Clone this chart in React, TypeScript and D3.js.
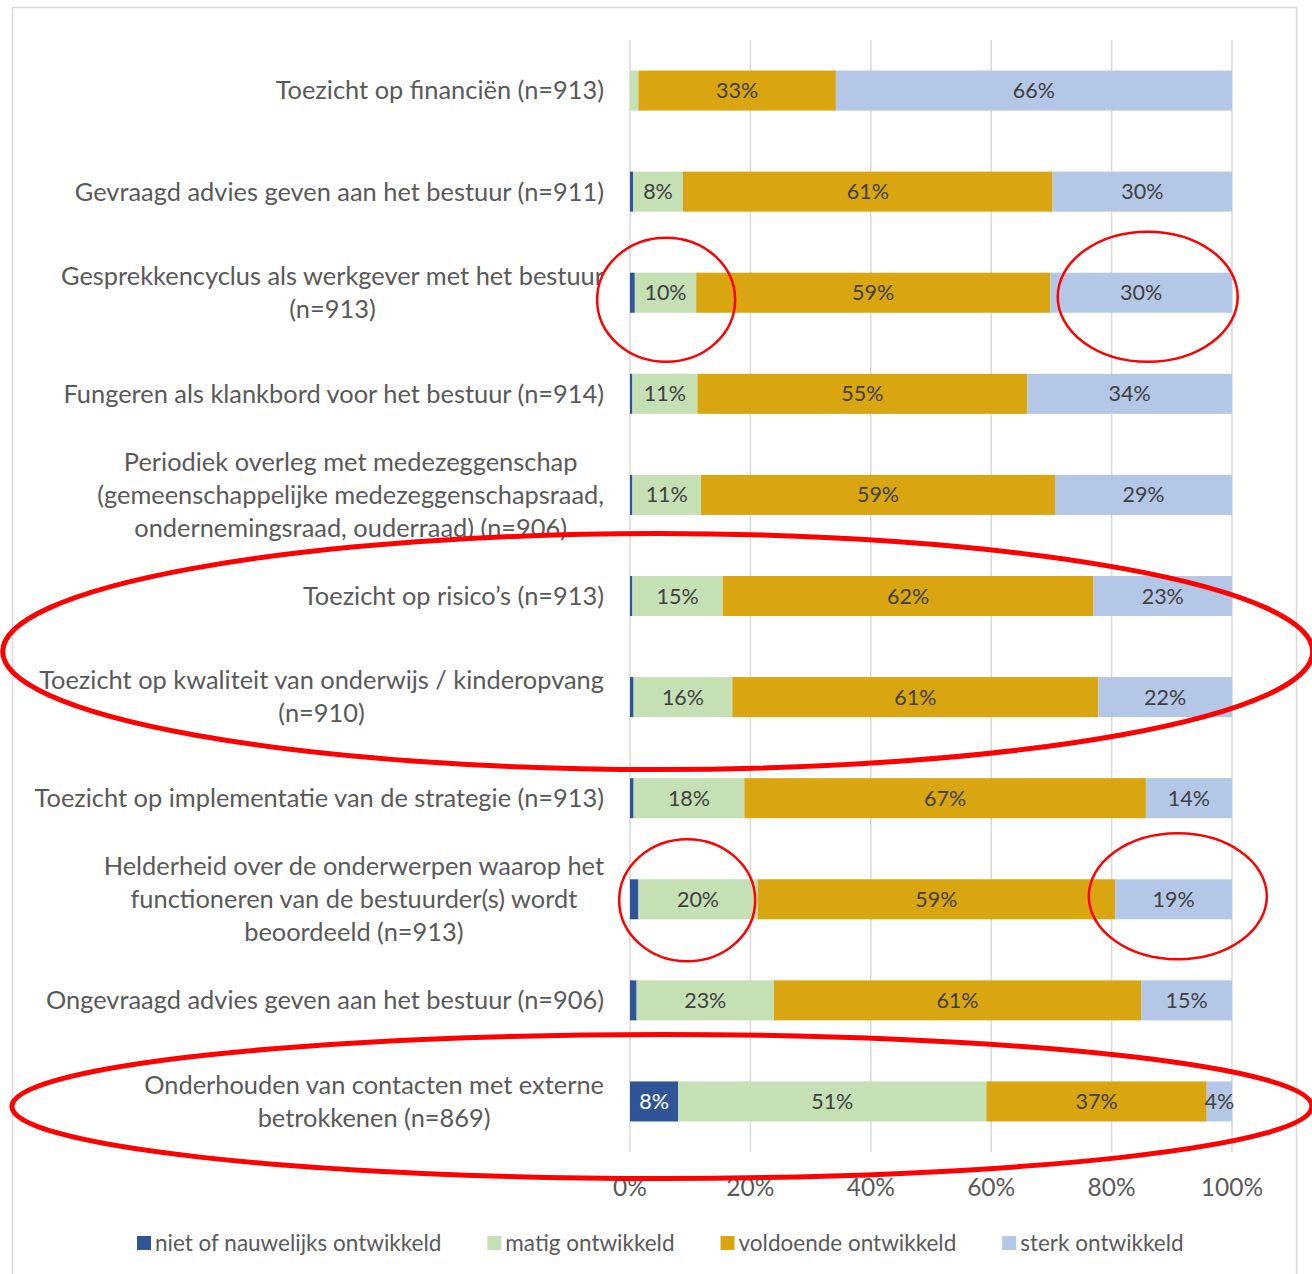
import React, { useEffect, useRef } from 'react';
import * as d3 from 'd3';

const W = 1312;
const H = 1274;

// ---- data ----
const categories: string[][] = [
  ['Toezicht op financiën (n=913)'],
  ['Gevraagd advies geven aan het bestuur (n=911)'],
  ['Gesprekkencyclus als werkgever met het bestuur', '(n=913)'],
  ['Fungeren als klankbord voor het bestuur (n=914)'],
  ['Periodiek overleg met medezeggenschap', '(gemeenschappelijke medezeggenschapsraad,', 'ondernemingsraad, ouderraad) (n=906)'],
  ['Toezicht op risico’s (n=913)'],
  ['Toezicht op kwaliteit van onderwijs / kinderopvang', '(n=910)'],
  ['Toezicht op implementatie van de strategie (n=913)'],
  ['Helderheid over de onderwerpen waarop het', 'functioneren van de bestuurder(s) wordt', 'beoordeeld (n=913)'],
  ['Ongevraagd advies geven aan het bestuur (n=906)'],
  ['Onderhouden van contacten met externe', 'betrokkenen (n=869)'],
];

const seriesNames = ['niet of nauwelijks ontwikkeld', 'matig ontwikkeld', 'voldoende ontwikkeld', 'sterk ontwikkeld'];
const seriesColors = ['#2F5597', '#C5E0B4', '#D9A511', '#B4C7E7'];

const niet = [0, 0.5, 0.8, 0.4, 0.4, 0.4, 0.6, 0.6, 1.4, 1.1, 8.0];
const matig = [1.4, 8.3, 10.2, 10.8, 11.4, 15.0, 16.4, 18.4, 19.8, 22.8, 51.2];
const voldoende = [32.8, 61.4, 58.8, 54.8, 58.8, 61.6, 60.8, 66.7, 59.4, 61.0, 36.6];
const sterk = [65.8, 29.8, 30.2, 34.0, 29.4, 23.0, 22.2, 14.3, 19.4, 15.1, 4.2];

const tickValues = [0, 20, 40, 60, 80, 100];

// red hand-drawn annotations: centre in (percent, category index + offset px), radii
const circles = [
  { pct: 6, cat: 2, dy: 7, rx: 69, ry: 62, sw: 2.5 },
  { pct: 86, cat: 2, dy: 4, rx: 90, ry: 65, sw: 2.5 },
  { pct: 9.5, cat: 8, dy: 1, rx: 68, ry: 61, sw: 2.5 },
  { pct: 91, cat: 8, dy: -3, rx: 89, ry: 63, sw: 2.5 },
  { pct: 4.6, cat: 5.5, dy: 5, rx: 655, ry: 118, sw: 5 },
  { pct: 5.3, cat: 10, dy: 5, rx: 650, ry: 72, sw: 5 },
];

const FONT = 'Lato, "Open Sans", sans-serif';

export default function App() {
  const ref = useRef<SVGSVGElement>(null);

  useEffect(() => {
    const svg = d3.select(ref.current);
    svg.selectAll('*').remove();

    const keys = seriesNames;
    const rows = categories.map((c, i) => ({
      idx: String(i),
      [keys[0]]: niet[i],
      [keys[1]]: matig[i],
      [keys[2]]: voldoende[i],
      [keys[3]]: sterk[i],
    }));

    const x = d3.scaleLinear().domain([0, 100]).range([630, 1232]);
    const y = d3
      .scaleBand<string>()
      .domain(rows.map((r) => r.idx))
      .range([40, 1152])
      .paddingInner(0.604)
      .paddingOuter(0.302);
    const color = d3.scaleOrdinal<string, string>().domain(keys).range(seriesColors);

    svg.append('rect').attr('width', W).attr('height', H).attr('fill', '#fff');

    // chart frame
    svg
      .append('rect')
      .attr('x', 12.5)
      .attr('y', 7.5)
      .attr('width', 1284)
      .attr('height', 1300)
      .attr('fill', 'none')
      .attr('stroke', '#d9d9d9')
      .attr('stroke-width', 1.5);

    // gridlines
    svg
      .append('g')
      .selectAll('line')
      .data(tickValues)
      .join('line')
      .attr('x1', (d) => x(d))
      .attr('x2', (d) => x(d))
      .attr('y1', 40)
      .attr('y2', 1152)
      .attr('stroke', '#d9d9d9')
      .attr('stroke-width', 1.5);

    // tick labels
    svg
      .append('g')
      .selectAll('text')
      .data(tickValues)
      .join('text')
      .attr('x', (d) => x(d))
      .attr('y', 1187)
      .attr('dy', '0.35em')
      .attr('text-anchor', 'middle')
      .attr('font-family', FONT)
      .attr('font-size', 24.5)
      .attr('fill', '#595959')
      .text((d) => `${d}%`);

    // bars
    const stacked = d3.stack<any>().keys(keys)(rows);
    const layers = svg
      .append('g')
      .selectAll('g')
      .data(stacked)
      .join('g')
      .attr('fill', (d) => color(d.key));
    layers
      .selectAll('rect')
      .data((d) => d)
      .join('rect')
      .attr('x', (d) => x(d[0]))
      .attr('width', (d) => Math.max(0, x(d[1]) - x(d[0])))
      .attr('y', (d) => y(d.data.idx)!)
      .attr('height', y.bandwidth());

    // data labels
    const labels = svg.append('g');
    stacked.forEach((layer, si) => {
      layer.forEach((seg) => {
        const v = seg[1] - seg[0];
        if (v < 3) return;
        labels
          .append('text')
          .attr('x', x((seg[0] + seg[1]) / 2))
          .attr('y', y(seg.data.idx)! + y.bandwidth() / 2)
          .attr('dy', '0.35em')
          .attr('text-anchor', 'middle')
          .attr('font-family', FONT)
          .attr('font-size', 21.5)
          .attr('fill', si === 0 ? '#ffffff' : '#404040')
          .text(`${Math.round(v)}%`);
      });
    });

    // category labels (right aligned block, lines centred)
    const catG = svg.append('g');
    const lineH = 33;
    categories.forEach((lines, i) => {
      const cy = y(String(i))! + y.bandwidth() / 2;
      const texts = lines.map((ln, li) =>
        catG
          .append('text')
          .attr('y', cy + (li - (lines.length - 1) / 2) * lineH)
          .attr('dy', '0.35em')
          .attr('text-anchor', 'middle')
          .attr('font-family', FONT)
          .attr('font-size', 25.4)
          .attr('fill', '#595959')
          .text(ln)
      );
      const widths = texts.map((t) => (t.node() as SVGTextElement).getComputedTextLength());
      const maxW = Math.max(...widths);
      const centerX = 604 - maxW / 2;
      texts.forEach((t) => t.attr('x', centerX));
    });

    // legend
    const legG = svg.append('g');
    let lx = 137;
    const ly = 1243;
    keys.forEach((k) => {
      legG
        .append('rect')
        .attr('x', lx)
        .attr('y', ly - 7)
        .attr('width', 14)
        .attr('height', 14)
        .attr('fill', color(k));
      const t = legG
        .append('text')
        .attr('x', lx + 18)
        .attr('y', ly)
        .attr('dy', '0.35em')
        .attr('font-family', FONT)
        .attr('font-size', 22.5)
        .attr('fill', '#595959')
        .text(k);
      const w = (t.node() as SVGTextElement).getComputedTextLength();
      lx = lx + 18 + w + 46;
    });

    // red annotations
    svg
      .append('g')
      .selectAll('ellipse')
      .data(circles)
      .join('ellipse')
      .attr('cx', (d) => x(d.pct))
      .attr('cy', (d) => (y.step() * d.cat) + y(String(0))! + y.bandwidth() / 2 + d.dy)
      .attr('rx', (d) => d.rx)
      .attr('ry', (d) => d.ry)
      .attr('fill', 'none')
      .attr('stroke', '#ff0000')
      .attr('stroke-width', (d) => d.sw);
  }, []);

  return (
    <svg
      ref={ref}
      width={W}
      height={H}
      style={{ position: 'absolute', left: 0, top: 0, display: 'block' }}
    />
  );
}
